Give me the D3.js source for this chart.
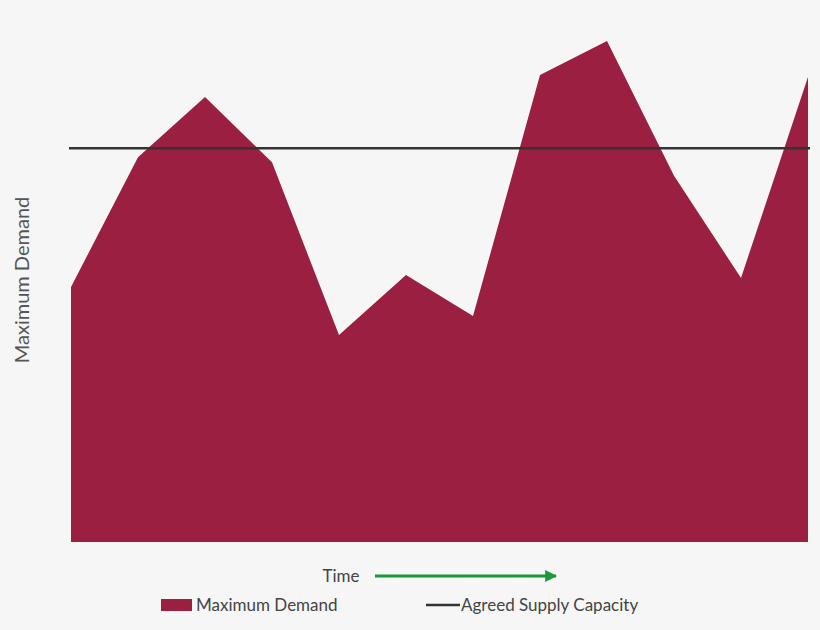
<!DOCTYPE html>
<html><head><meta charset="utf-8">
<script src="https://cdn.jsdelivr.net/npm/d3@7"></script>
<style>body{margin:0;background:#f6f6f6}</style></head>
<body><svg id="c" width="820" height="630"></svg>
<script>
const periods = [1,2,3,4,5,6,7,8,9,10,11,12];
const demand = [50.9,76.8,88.8,75.8,41.3,53.3,45.1,93.2,100,73.1,52.7,92.8];
const supplyCapacity = 78.6;
const svg = d3.select("#c");
svg.append("rect").attr("width",820).attr("height",630).attr("fill","#f6f6f6");
const x = d3.scaleLinear().domain([1,12]).range([71,808]);
const y = d3.scaleLinear().domain([0,100]).range([542,41]);
const font = "Lato, 'Open Sans', sans-serif";
svg.append("path").datum(demand)
  .attr("d", d3.area().x((d,i)=>x(periods[i])).y0(y(0)).y1(d=>y(d)))
  .attr("fill","#9a1f40");
svg.append("line").attr("x1",x(1)-2).attr("x2",x(12)+2).attr("y1",y(supplyCapacity)).attr("y2",y(supplyCapacity))
  .attr("stroke","#333").attr("stroke-width",2.5);
svg.append("text").attr("transform","translate(29,280) rotate(-90)").attr("text-anchor","middle")
  .attr("font-family",font).attr("font-size",20).attr("fill","#555").text("Maximum Demand");
svg.append("text").attr("x",341).attr("y",582).attr("text-anchor","middle").attr("font-family",font)
  .attr("font-size",17).attr("fill","#444").text("Time");
svg.append("defs").append("marker").attr("id","ar").attr("viewBox","0 0 10 10").attr("refX",9).attr("refY",5)
  .attr("markerWidth",4).attr("markerHeight",4).attr("orient","auto")
  .append("path").attr("d","M0,0L10,5L0,10z").attr("fill","#1a9a3a");
svg.append("line").attr("x1",375).attr("x2",556).attr("y1",576).attr("y2",576).attr("stroke","#1a9a3a")
  .attr("stroke-width",3).attr("marker-end","url(#ar)");
svg.append("rect").attr("x",161).attr("y",599).attr("width",31).attr("height",12).attr("fill","#9a1f40");
svg.append("text").attr("x",196).attr("y",611).attr("font-family",font).attr("font-size",17).attr("fill","#444").text("Maximum Demand");
svg.append("line").attr("x1",426).attr("x2",460).attr("y1",605).attr("y2",605).attr("stroke","#333").attr("stroke-width",2.5);
svg.append("text").attr("x",461).attr("y",611).attr("font-family",font).attr("font-size",17).attr("fill","#444").text("Agreed Supply Capacity");
</script></body></html>
